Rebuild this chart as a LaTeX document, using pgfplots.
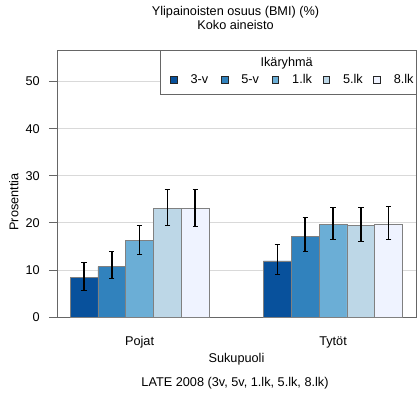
\documentclass[border=0pt]{standalone}
\usepackage{fontspec}
\setmainfont{Liberation Sans}
\usepackage{pgfplots}
\pgfplotsset{compat=1.18}
\definecolor{b1}{HTML}{08519C}
\definecolor{b2}{HTML}{3182BD}
\definecolor{b3}{HTML}{6BAED6}
\definecolor{b4}{HTML}{BDD7E7}
\definecolor{b5}{HTML}{EFF3FF}
\pgfplotsset{
  legsq/.style={legend image code/.code={\draw[##1,draw=black!85,line width=0.8bp] (0bp,-3.3bp) rectangle (6.6bp,3.3bp);}},
  eb/.style={draw=black!50, line width=0.6bp,
    error bars/.cd, y dir=both, y explicit,
    error bar style={black, line width=1.6bp},
    error mark options={black, rotate=90, line width=1bp, mark size=2.7bp}}
}
\begin{document}
\begin{tikzpicture}[font=\fontsize{12.7bp}{15bp}\selectfont]
\useasboundingbox (-57bp,-77bp) rectangle (363bp,317bp);
\begin{axis}[
  at={(0,0)}, anchor=south west,
  scale only axis, width=359bp, height=267bp,
  clip=false,
  ybar=0pt, bar width=0.1438,
  xmin=-0.427, xmax=1.429, ymin=0, ymax=56.7,
  xtick={0,1}, xticklabels={Pojat,Tytöt},
  ytick={0,10,20,30,40,50},
  tick align=outside, major tick length=8bp,
  xtick style={draw=none},
  ytick pos=left,
  ymajorgrids, grid style={color=black!15, line width=0.8bp},
  axis line style={black!60, line width=0.8bp},
  ytick style={black!60, line width=0.8bp},
  /pgf/number format/assume math mode=true,
  yticklabel style={inner xsep=0pt, xshift=-9bp},
  xticklabel style={anchor=base, yshift=-20.7bp},
  xlabel={Sukupuoli}, ylabel={Prosenttia},
  every axis x label/.style={at={(rel axis cs:0.5,-0.17116)}, anchor=base},
  every axis y label/.style={at={(rel axis cs:-0.1078,0.4307)}, rotate=90, anchor=base},
  legend columns=5,
  legend cell align=left,
  legend style={at={(rel axis cs:0.3148,0.8876)}, anchor=west, draw=none, fill=none,
    inner sep=0pt, column sep=0pt, nodes={inner sep=0pt}},
  every axis plot post/.append style={legsq},
]
\addplot[fill=b1, eb] coordinates {(0,8.4) += (0,3.1) -= (0,2.8) (1,11.9) += (0,3.6) -= (0,2.9)};
\addplot[fill=b2, eb] coordinates {(0,10.7) += (0,3.3) -= (0,2.6) (1,17.2) += (0,3.9) -= (0,3.3)};
\addplot[fill=b3, eb] coordinates {(0,16.3) += (0,3.2) -= (0,3.1) (1,19.7) += (0,3.6) -= (0,3.2)};
\addplot[fill=b4, eb] coordinates {(0,23.1) += (0,4.0) -= (0,3.7) (1,19.4) += (0,3.9) -= (0,3.4)};
\addplot[fill=b5, eb] coordinates {(0,23.1) += (0,4.0) -= (0,3.8) (1,19.7) += (0,3.8) -= (0,3.2)};
\draw[black!60, line width=0.8bp, fill=white] (rel axis cs:0.2869,0.8352) rectangle (rel axis cs:1,1);
\node[anchor=base] at (rel axis cs:0.6398,0.940) {Ikäryhmä};
\addlegendentry{\hspace{13bp}\makebox[30.4bp][l]{3-v}}
\addlegendentry{\hspace{13bp}\makebox[30.4bp][l]{5-v}}
\addlegendentry{\hspace{13bp}\makebox[30.4bp][l]{1.lk}}
\addlegendentry{\hspace{13bp}\makebox[30.4bp][l]{5.lk}}
\addlegendentry{\hspace{13bp}\makebox[30.4bp][l]{8.lk}}
\end{axis}
\node[anchor=base] at (178.5bp,301bp) {Ylipainoisten osuus (BMI) (\%)};
\node[anchor=base] at (178.5bp,287.4bp) {Koko aineisto};
\node[anchor=base] at (178bp,-69.7bp) {LATE 2008 (3v, 5v, 1.lk, 5.lk, 8.lk)};
\end{tikzpicture}
\end{document}
